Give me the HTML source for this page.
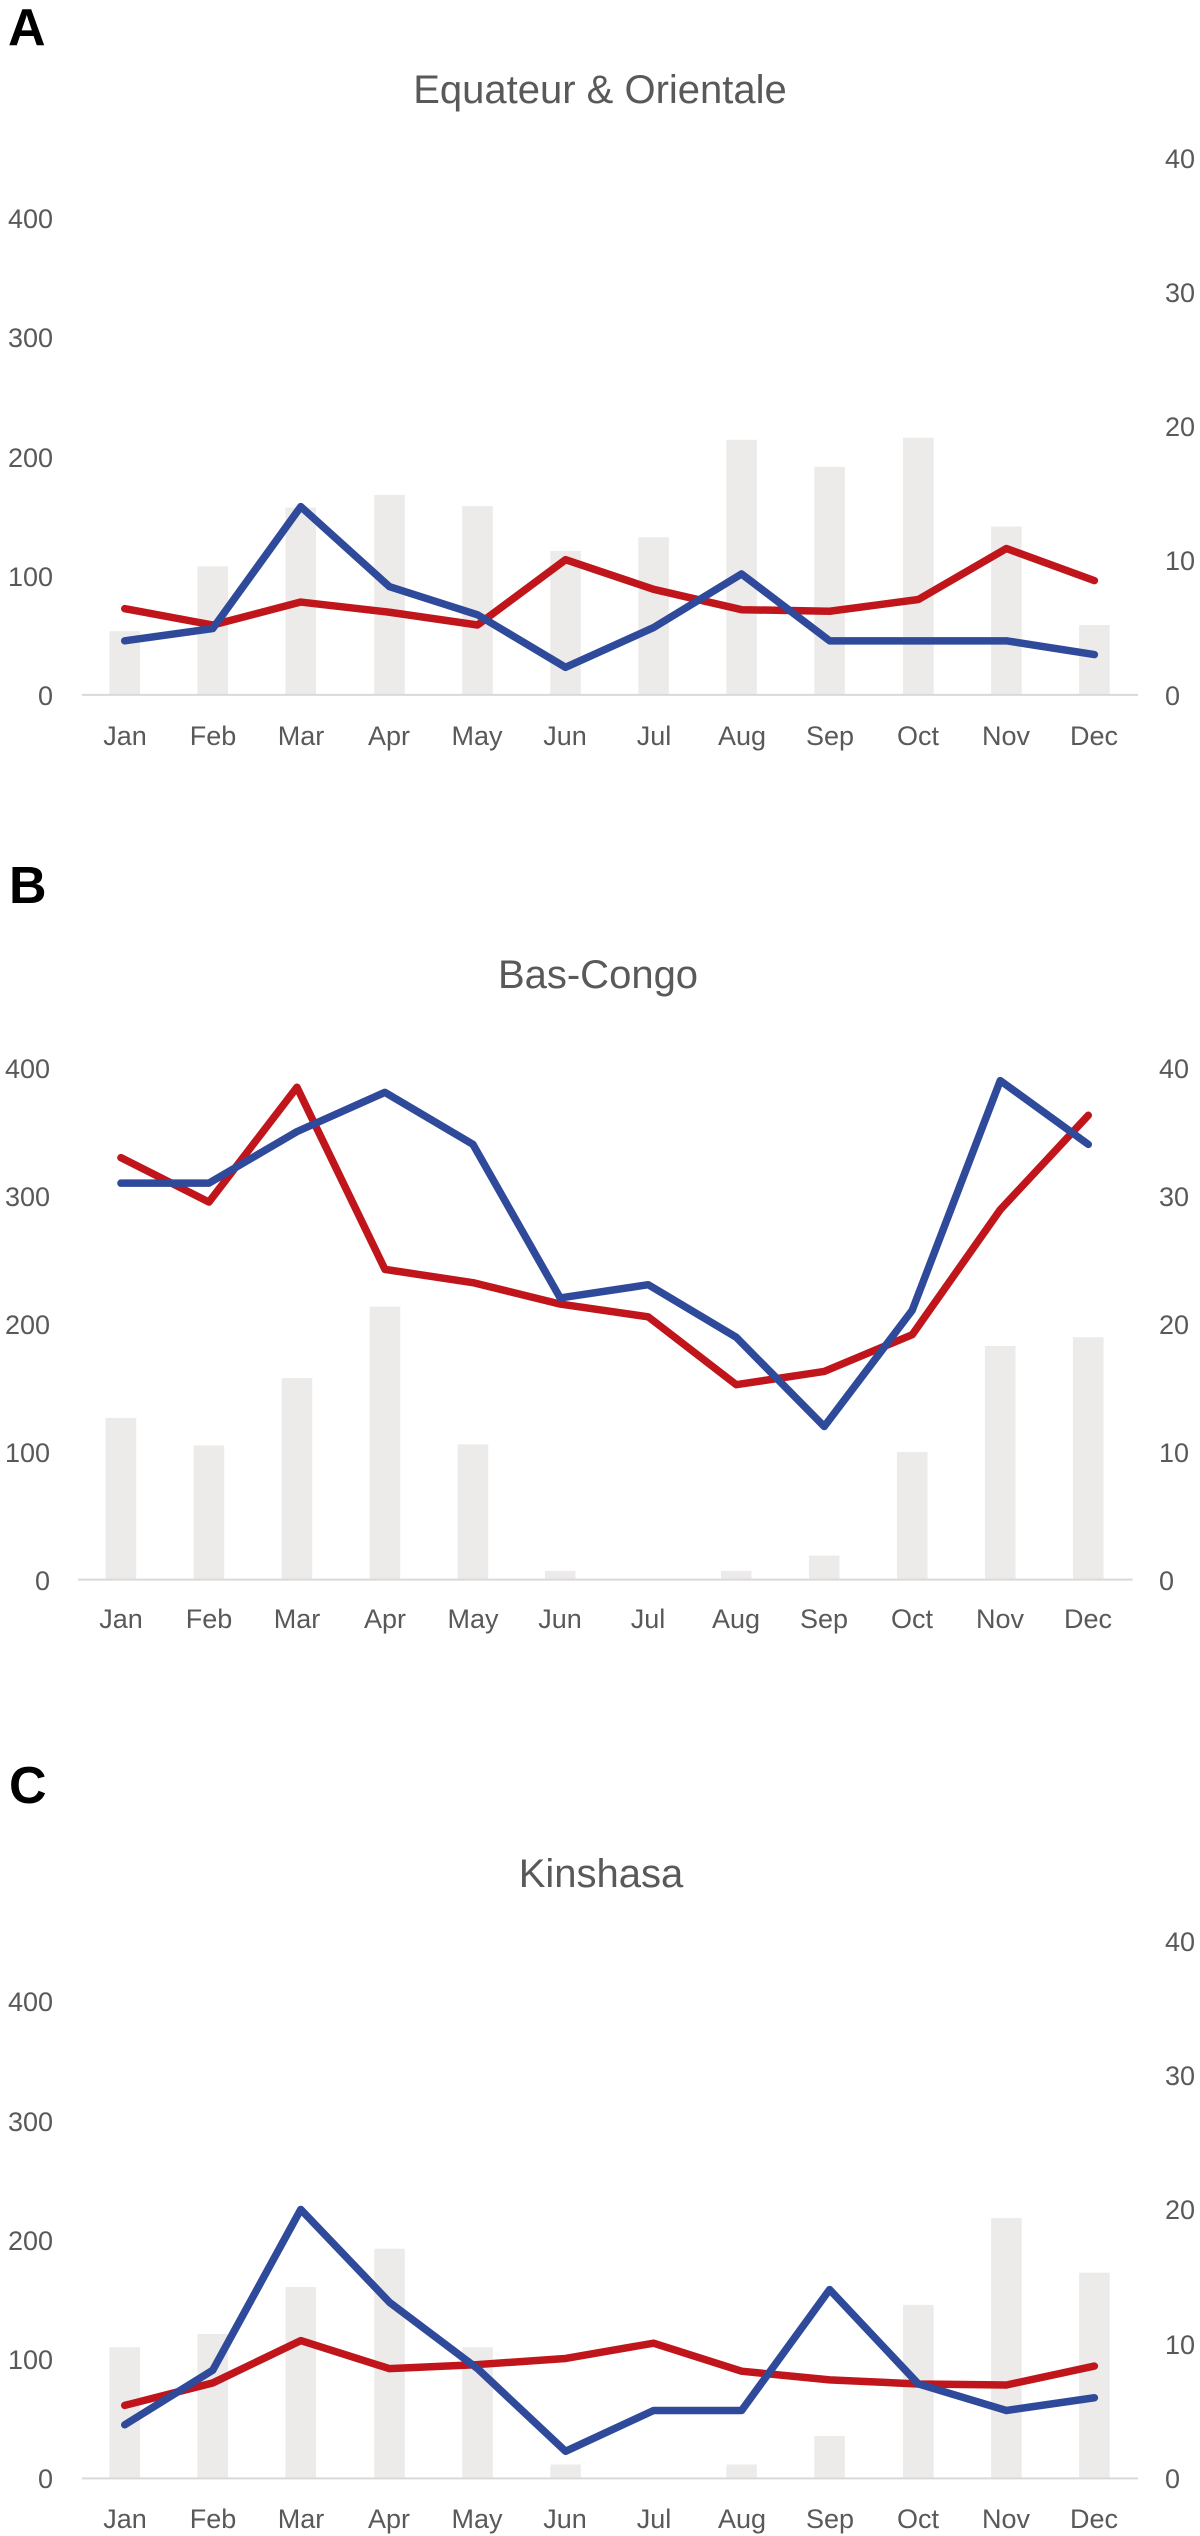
<!DOCTYPE html>
<html><head><meta charset="utf-8"><style>
html,body{margin:0;padding:0;background:#fff}
svg{display:block}
text{font-family:"Liberation Sans",sans-serif;fill:#595959}
.t{font-size:27px}
.ti{font-size:40px;text-anchor:middle}
.L{font-size:52px;font-weight:bold;fill:#000}
.m{font-size:27px;text-anchor:middle}
.l{text-anchor:end}
.ln{fill:none;stroke-width:7.5;stroke-linejoin:round;stroke-linecap:round;vector-effect:non-scaling-stroke}
.r{stroke:#C0161B}.b{stroke:#2F4A9A}
.ax{stroke:#D9D9D9;stroke-width:2;vector-effect:non-scaling-stroke}
.bar{fill:#EDEBEA}
</style></head><body>
<svg width="1200" height="2536" viewBox="0 0 1200 2536" xmlns="http://www.w3.org/2000/svg">
<!-- Panel A -->
<text class="L" x="8" y="45">A</text>
<text class="ti" x="600" y="103">Equateur &amp; Orientale</text>
<g transform="translate(0,0) scale(0.76531,0.510204)">
<g class="bar">
<rect x="143" y="1237" width="40" height="125"/><rect x="258" y="1110" width="40" height="252"/><rect x="373" y="995" width="40" height="367"/><rect x="489" y="970" width="40" height="392"/><rect x="604" y="992" width="40" height="370"/><rect x="719" y="1080" width="40" height="282"/><rect x="834" y="1053" width="40" height="309"/><rect x="949" y="862" width="40" height="500"/><rect x="1064" y="915" width="40" height="447"/><rect x="1180" y="858" width="40" height="504"/><rect x="1295" y="1032" width="40" height="330"/><rect x="1410" y="1225" width="40" height="137"/>
</g>
<line class="ax" x1="107" y1="1362" x2="1487" y2="1362"/>
<polyline class="ln r" points="163,1193 278,1225 393,1180 509,1200 624,1225 739,1097 854,1155 969,1195 1084,1198 1200,1175 1315,1075 1430,1138"/>
<polyline class="ln b" points="163,1256 278,1232 393,993 509,1150 624,1205 739,1308 854,1230 969,1125 1084,1256 1200,1256 1315,1256 1430,1283"/>
</g>
<g class="t">
<text class="l" x="53" y="228">400</text><text class="l" x="53" y="347">300</text><text class="l" x="53" y="467">200</text><text class="l" x="53" y="586">100</text><text class="l" x="53" y="705">0</text>
<text x="1165" y="168">40</text><text x="1165" y="302">30</text><text x="1165" y="436">20</text><text x="1165" y="570">10</text><text x="1165" y="705">0</text>
</g>
<g class="m">
<text x="125" y="745">Jan</text><text x="213" y="745">Feb</text><text x="301" y="745">Mar</text><text x="389" y="745">Apr</text><text x="477" y="745">May</text><text x="565" y="745">Jun</text><text x="654" y="745">Jul</text><text x="742" y="745">Aug</text><text x="830" y="745">Sep</text><text x="918" y="745">Oct</text><text x="1006" y="745">Nov</text><text x="1094" y="745">Dec</text>
</g>

<!-- Panel B -->
<text class="L" x="9" y="903">B</text>
<text class="ti" x="598" y="988">Bas-Congo</text>
<g transform="translate(0,850) scale(0.76531,0.510204)">
<g class="bar">
<rect x="138" y="1113" width="40" height="317"/><rect x="253" y="1167" width="40" height="263"/><rect x="368" y="1035" width="40" height="395"/><rect x="483" y="895" width="40" height="535"/><rect x="598" y="1165" width="40" height="265"/><rect x="712" y="1413" width="40" height="17"/><rect x="942" y="1413" width="40" height="17"/><rect x="1057" y="1383" width="40" height="47"/><rect x="1172" y="1180" width="40" height="250"/><rect x="1287" y="972" width="40" height="458"/><rect x="1402" y="955" width="40" height="475"/>
</g>
<line class="ax" x1="102" y1="1430" x2="1480" y2="1430"/>
<polyline class="ln r" points="158,603 273,690 388,465 503,822 618,848 732,890 847,915 962,1048 1077,1022 1192,950 1307,705 1422,520"/>
<polyline class="ln b" points="158,653 273,653 388,552 503,475 618,577 732,878 847,852 962,955 1077,1130 1192,902 1307,452 1422,577"/>
</g>
<g class="t">
<text class="l" x="50" y="1078">400</text><text class="l" x="50" y="1206">300</text><text class="l" x="50" y="1334">200</text><text class="l" x="50" y="1462">100</text><text class="l" x="50" y="1590">0</text>
<text x="1159" y="1078">40</text><text x="1159" y="1206">30</text><text x="1159" y="1334">20</text><text x="1159" y="1462">10</text><text x="1159" y="1590">0</text>
</g>
<g class="m">
<text x="121" y="1628">Jan</text><text x="209" y="1628">Feb</text><text x="297" y="1628">Mar</text><text x="385" y="1628">Apr</text><text x="473" y="1628">May</text><text x="560" y="1628">Jun</text><text x="648" y="1628">Jul</text><text x="736" y="1628">Aug</text><text x="824" y="1628">Sep</text><text x="912" y="1628">Oct</text><text x="1000" y="1628">Nov</text><text x="1088" y="1628">Dec</text>
</g>

<!-- Panel C -->
<text class="L" x="9" y="1803">C</text>
<text class="ti" x="601" y="1887">Kinshasa</text>
<g transform="translate(0,1736) scale(0.76531,0.510204)">
<g class="bar">
<rect x="143" y="1198" width="40" height="257"/><rect x="258" y="1172" width="40" height="283"/><rect x="373" y="1080" width="40" height="375"/><rect x="489" y="1005" width="40" height="450"/><rect x="604" y="1198" width="40" height="257"/><rect x="719" y="1428" width="40" height="27"/><rect x="949" y="1428" width="40" height="27"/><rect x="1064" y="1372" width="40" height="83"/><rect x="1180" y="1115" width="40" height="340"/><rect x="1295" y="945" width="40" height="510"/><rect x="1410" y="1052" width="40" height="403"/>
</g>
<line class="ax" x1="107" y1="1455" x2="1487" y2="1455"/>
<polyline class="ln r" points="163,1312 278,1268 393,1185 509,1240 624,1232 739,1220 854,1190 969,1245 1084,1262 1200,1270 1315,1272 1430,1235"/>
<polyline class="ln b" points="163,1350 278,1243 393,928 509,1110 624,1240 739,1402 854,1322 969,1322 1084,1085 1200,1270 1315,1322 1430,1297"/>
</g>
<g class="t">
<text class="l" x="53" y="2011">400</text><text class="l" x="53" y="2131">300</text><text class="l" x="53" y="2250">200</text><text class="l" x="53" y="2369">100</text><text class="l" x="53" y="2488">0</text>
<text x="1165" y="1951">40</text><text x="1165" y="2085">30</text><text x="1165" y="2219">20</text><text x="1165" y="2354">10</text><text x="1165" y="2488">0</text>
</g>
<g class="m">
<text x="125" y="2528">Jan</text><text x="213" y="2528">Feb</text><text x="301" y="2528">Mar</text><text x="389" y="2528">Apr</text><text x="477" y="2528">May</text><text x="565" y="2528">Jun</text><text x="654" y="2528">Jul</text><text x="742" y="2528">Aug</text><text x="830" y="2528">Sep</text><text x="918" y="2528">Oct</text><text x="1006" y="2528">Nov</text><text x="1094" y="2528">Dec</text>
</g>
</svg>
</body></html>
